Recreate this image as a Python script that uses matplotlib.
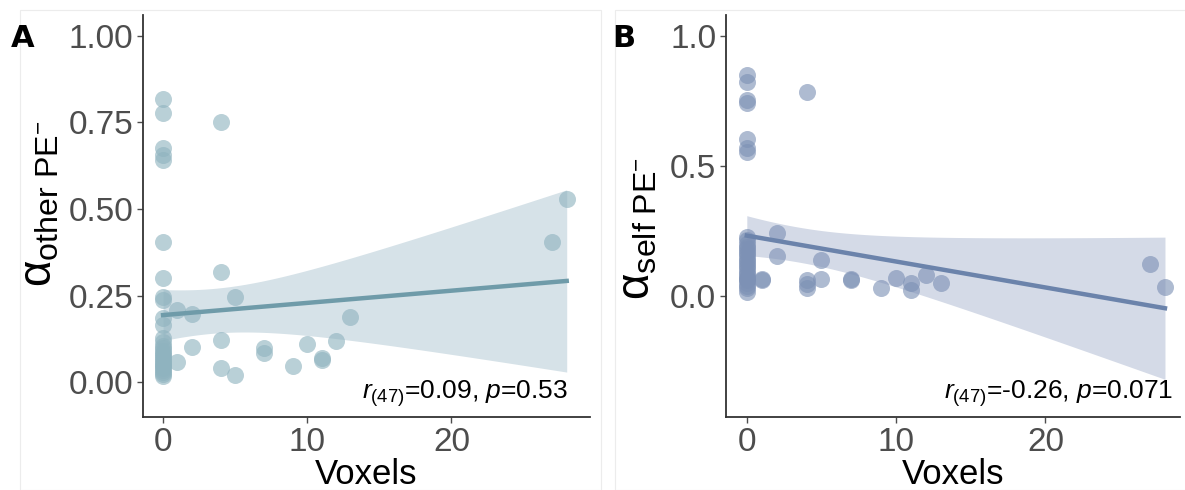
import numpy as np
import matplotlib
matplotlib.use("Agg")
import matplotlib.pyplot as plt
from matplotlib.patches import Rectangle

plt.rcParams['font.family'] = ['Liberation Sans', 'DejaVu Sans']
plt.rcParams['mathtext.fontset'] = 'custom'
plt.rcParams['mathtext.rm'] = 'Liberation Sans'
plt.rcParams['mathtext.it'] = 'Liberation Sans:italic'

# panel A: alpha other PE- vs voxels
voxels = [0] * 29 + [1, 1, 2, 2, 4, 4, 4, 4, 5, 5, 7, 7, 9, 10, 11, 11, 12, 13, 27, 28]
alpha_other = [0.817, 0.777, 0.675, 0.656, 0.642, 0.406, 0.300, 0.245, 0.237, 0.184, 0.165,
               0.126, 0.115, 0.105, 0.098, 0.09, 0.085, 0.078, 0.072, 0.066, 0.06,
               0.055, 0.05, 0.045, 0.04, 0.035, 0.03, 0.022, 0.016,
               0.208, 0.059, 0.197, 0.100, 0.752, 0.317, 0.121, 0.040, 0.247, 0.020,
               0.097, 0.085, 0.046, 0.110, 0.069, 0.065, 0.118, 0.188, 0.405, 0.530]
# panel B: alpha self PE- vs voxels
alpha_self = [0.850, 0.824, 0.754, 0.744, 0.604, 0.568, 0.555,
              0.228, 0.215, 0.2, 0.19, 0.18, 0.17, 0.16, 0.15, 0.14, 0.13, 0.12,
              0.11, 0.1, 0.09, 0.08, 0.07, 0.065, 0.06, 0.05, 0.04, 0.03, 0.017,
              0.065, 0.060, 0.241, 0.155, 0.783, 0.062, 0.046, 0.030, 0.138, 0.065,
              0.065, 0.060, 0.030, 0.069, 0.050, 0.023, 0.081, 0.050, 0.123, 0.035]

stats_a = r'$\mathit{r}_{(47)}$=0.09, $\mathit{p}$=0.53'
stats_b = r'$\mathit{r}_{(47)}$=-0.26, $\mathit{p}$=0.071'

fig = plt.figure(figsize=(11.85, 4.9), dpi=100)

# faint panel frames
for x0 in (0.017, 0.519):
    fig.patches.append(Rectangle((x0, 0.0), 0.49, 0.98, transform=fig.transFigure,
                                 fill=False, edgecolor='#ececec', linewidth=0.8))


def panel(rect, x, y, pt_col, line_col, band_col, xmax, ylim, yticks, yticklabels,
          ylabel, lpos, stats, sx, letter, lx):
    ax = fig.add_axes(rect)
    x = np.array(x, float)
    y = np.array(y, float)
    n = len(x)
    b, a = np.polyfit(x, y, 1)
    xs = np.linspace(x.min(), x.max(), 100)
    ys = a + b * xs
    resid = y - (a + b * x)
    s = np.sqrt(np.sum(resid ** 2) / (n - 2))
    sxx = np.sum((x - x.mean()) ** 2)
    se = s * np.sqrt(1.0 / n + (xs - x.mean()) ** 2 / sxx)
    t = 2.012
    ax.fill_between(xs, ys - t * se, ys + t * se, color=band_col, alpha=1, lw=0, zorder=1)
    ax.scatter(x, y, s=150, color=pt_col, alpha=0.62, lw=0, zorder=2)
    ax.plot(xs, ys, color=line_col, lw=3.2, zorder=3)
    ax.set_xlim(-1.39, xmax)
    ax.set_ylim(*ylim)
    ax.set_xticks([0, 10, 20])
    ax.set_yticks(yticks)
    ax.set_yticklabels(yticklabels)
    for sp in ('top', 'right'):
        ax.spines[sp].set_visible(False)
    for sp in ('left', 'bottom'):
        ax.spines[sp].set_color('#333333')
        ax.spines[sp].set_linewidth(1.3)
    ax.tick_params(labelsize=24, colors='#4d4d4d', length=4, width=1, pad=3)
    ax.set_xlabel('Voxels', fontsize=25, labelpad=0)
    ax.set_ylabel(ylabel, fontsize=33)
    ax.yaxis.set_label_coords(*lpos)
    ax.text(sx, 0.02, stats, transform=ax.transAxes, ha='right', va='bottom', fontsize=19)
    fig.text(lx, 0.905, letter, fontsize=22, fontweight='bold', family='DejaVu Sans')
    return ax


panel([0.1207, 0.149, 0.377, 0.82], voxels, alpha_other, '#8fb3bf', '#6f9ba9', '#d6e2e8',
      29.6, (-0.101, 1.06), [0, 0.25, 0.5, 0.75, 1.0], ['0.00', '0.25', '0.50', '0.75', '1.00'],
      r'$\mathrm{\alpha}_{\mathrm{other\ PE}^{-}}$', (-0.182, 0.53), stats_a, 0.951, 'A', 0.009)
panel([0.6127, 0.149, 0.383, 0.82], voxels, alpha_self, '#7d91b5', '#6b83ab', '#d4dae7',
      29.0, (-0.465, 1.08), [0, 0.5, 1.0], ['0.0', '0.5', '1.0'],
      r'$\mathrm{\alpha}_{\mathrm{self\ PE}^{-}}$', (-0.147, 0.47), stats_b, 0.985, 'B', 0.517)

fig.savefig('out.png', dpi=100)
